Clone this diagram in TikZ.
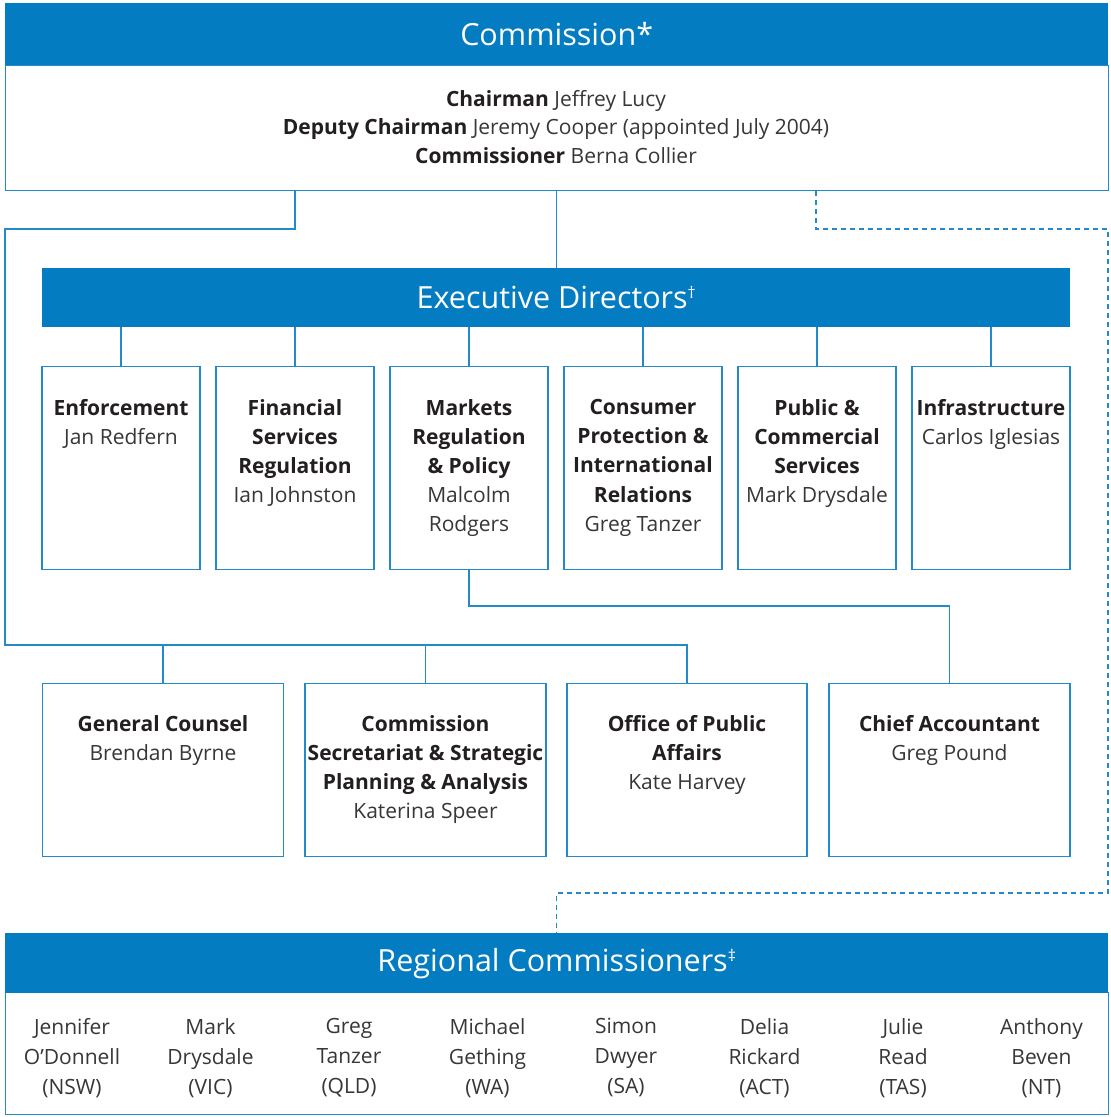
\documentclass[tikz,border=0pt]{standalone}
\usepackage{fontspec}
\setmainfont{Open Sans}
\definecolor{hdr}{RGB}{3,124,194}
\definecolor{ln}{RGB}{36,137,203}
\definecolor{txt}{RGB}{35,31,32}
\definecolor{nm}{RGB}{55,55,55}
\newcommand{\hd}[1]{{\color{txt}\bfseries #1}}
\newcommand{\supmark}[1]{\raisebox{10pt}{\fontsize{16}{16}\selectfont #1}}
\begin{document}
\begin{tikzpicture}[x=1pt,y=-1pt,
  hdrbox/.style={fill=hdr,draw=none,inner sep=0pt,text=white,font=\fontsize{30.5}{34}\selectfont,anchor=north west},
  bodybox/.style={draw=ln,line width=1.3pt,fill=white,inner sep=0pt,anchor=north west},
  unitbox/.style={draw=ln,line width=1.3pt,fill=white,inner sep=0pt,anchor=north},
  lbl/.style={anchor=north,align=center,inner sep=0pt,font=\fontsize{21}{29.2}\selectfont,text=nm},
  rlbl/.style={anchor=north,align=center,inner sep=0pt,font=\fontsize{21}{30}\selectfont,text=nm},
  conn/.style={draw=ln,line width=1.3pt},
  dconn/.style={draw=ln,line width=1.3pt,dash pattern=on 5pt off 4pt}
]
\useasboundingbox (0,0) rectangle (1111,1117);

% Commission
\node[bodybox,minimum width=1103pt,minimum height=125pt] (comb) at (5,65) {};
\node[hdrbox,minimum width=1103pt,minimum height=62pt] (comh) at (5,3) {Commission*};
\node[lbl,font=\fontsize{21}{28.5}\selectfont] (comt) at (556,90) {\hd{Chairman} Jeffrey Lucy\\\hd{Deputy Chairman} Jeremy Cooper (appointed July 2004)\\\hd{Commissioner} Berna Collier};

% Executive directors
\node[hdrbox,minimum width=1028pt,minimum height=59pt] (exh) at (42,268) {Executive Directors\supmark{†}};

\foreach \n/\x in {enf/121,fsr/295,mkt/469,cpi/643,pcs/817,inf/991}{
  \node[unitbox,minimum width=158pt,minimum height=203pt] (\n) at (\x,366) {};
}
\node[lbl] at (121,399) {\hd{Enforcement}\\Jan Redfern};
\node[lbl] at (295,399) {\hd{Financial}\\\hd{Services}\\\hd{Regulation}\\Ian Johnston};
\node[lbl] at (469,399) {\hd{Markets}\\\hd{Regulation}\\\hd{\& Policy}\\Malcolm\\Rodgers};
\node[lbl] at (643,399) {\hd{Consumer}\\\hd{Protection \&}\\\hd{International}\\\hd{Relations}\\Greg Tanzer};
\node[lbl] at (817,399) {\hd{Public \&}\\\hd{Commercial}\\\hd{Services}\\Mark Drysdale};
\node[lbl] at (991,399) {\hd{Infrastructure}\\Carlos Iglesias};

% Bottom row
\node[unitbox,minimum width=241pt,minimum height=173pt] (gc) at (163,683) {};
\node[unitbox,minimum width=241pt,minimum height=173pt] (csp) at (425.5,683) {};
\node[unitbox,minimum width=240pt,minimum height=173pt] (opa) at (687,683) {};
\node[unitbox,minimum width=241pt,minimum height=173pt] (ca) at (949.5,683) {};
\node[lbl] at (163,715) {\hd{General Counsel}\\Brendan Byrne};
\node[lbl] at (425.5,715) {\hd{Commission}\\\hd{Secretariat \& Strategic}\\\hd{Planning \& Analysis}\\Katerina Speer};
\node[lbl] at (687,715) {\hd{Office of Public}\\\hd{Affairs}\\Kate Harvey};
\node[lbl] at (949.5,715) {\hd{Chief Accountant}\\Greg Pound};

% Regional commissioners
\node[bodybox,minimum width=1103pt,minimum height=122pt] (regb) at (5,992) {};
\node[hdrbox,minimum width=1103pt,minimum height=60pt] (regh) at (5,933) {Regional Commissioners\supmark{‡}};
\foreach \x/\t in {72/{Jennifer\\O’Donnell\\(NSW)},210.5/{Mark\\Drysdale\\(VIC)},349/{Greg\\Tanzer\\(QLD)},487.5/{Michael\\Gething\\(WA)},626/{Simon\\Dwyer\\(SA)},764.5/{Delia\\Rickard\\(ACT)},903/{Julie\\Read\\(TAS)},1041.5/{Anthony\\Beven\\(NT)}}{
  \node[rlbl] at (\x,1018) {\t};
}

% connector coordinates
\coordinate (j1) at (295,229);
\coordinate (j2) at (5,229);
\coordinate (j3) at (5,645);
\coordinate (j4) at (469,606);
\coordinate (d1) at (816,229);
\coordinate (d2) at (1108,229);
\coordinate (d3) at (1108,893);

% solid connectors
\draw[conn] (comb.south -| j1) -- (j1) -- (j2) -- (j3) -- (j3 -| opa.north) -- (opa.north);
\draw[conn] (gc.north |- j3) -- (gc.north);
\draw[conn] (csp.north |- j3) -- (csp.north);
\draw[conn] (comb.south -| exh.north) -- (exh.north);
\foreach \n in {enf,fsr,mkt,cpi,pcs,inf}{
  \draw[conn] (exh.south -| \n.north) -- (\n.north);
}
\draw[conn] (mkt.south) -- (mkt.south |- j4) -| (ca.north);

% dashed connector
\draw[dconn] (comb.south -| d1) -- (d1) -- (d2) -- (d3) -- (d3 -| regh.north) -- (regh.north);
\end{tikzpicture}
\end{document}
